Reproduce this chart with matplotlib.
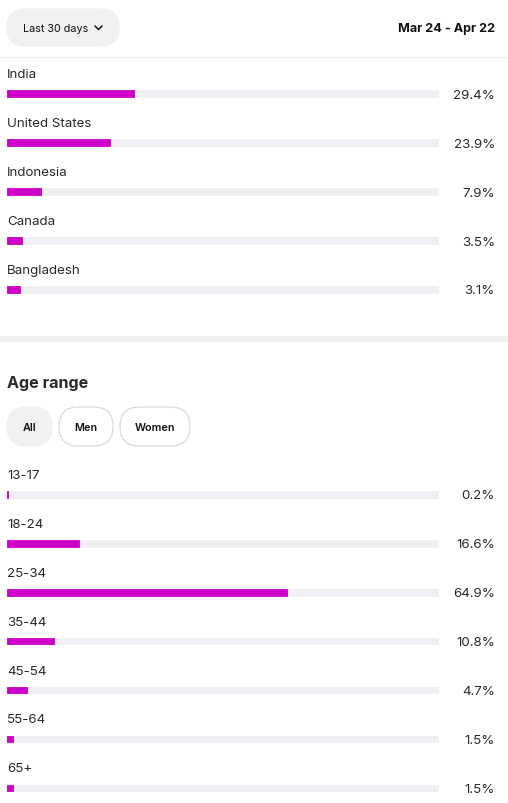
import matplotlib
matplotlib.use('Agg')
import matplotlib.pyplot as plt
from matplotlib.patches import FancyBboxPatch

plt.rcParams['font.family'] = ['Inter', 'DejaVu Sans']

# 数据
countries = ['India', 'United States', 'Indonesia', 'Canada', 'Bangladesh']
country_pct = [29.4, 23.9, 7.9, 3.5, 3.1]

ages = ['13-17', '18-24', '25-34', '35-44', '45-54', '55-64', '65+']
age_pct = [0.2, 16.6, 64.9, 10.8, 4.7, 1.5, 1.5]

period_label = 'Last 30 days'
date_range = 'Mar 24 - Apr 22'
gender_tabs = ['All', 'Men', 'Women']

MAGENTA = '#CC00C6'
TRACK = '#EFEFF4'
TEXT = '#2A2A2A'
W, H = 508, 804

fig = plt.figure(figsize=(W / 100, H / 100), dpi=100)

# 背景层：像素坐标
bg = fig.add_axes([0, 0, 1, 1], zorder=0)
bg.set_xlim(0, W)
bg.set_ylim(H, 0)
bg.axis('off')


def pill(x0, y0, x1, y1, face, edge=None):
    r = (y1 - y0) / 2
    p = FancyBboxPatch((x0, y0), x1 - x0, y1 - y0,
                       boxstyle=f'round,pad=0,rounding_size={r}',
                       facecolor=face, edgecolor=edge if edge else face,
                       linewidth=0.9)
    bg.add_patch(p)


# 顶部
pill(7, 10, 119, 47, '#F1F1F3')
bg.text(23, 29.5, period_label, fontsize=7.8, color='#111111', va='center', ha='left')
bg.plot([95, 98.5, 102], [27, 30.5, 27], color='#111111', lw=1.1, solid_capstyle='round')
bg.text(495, 29, date_range, fontsize=9.1, fontweight='bold', color='#111111',
        va='center', ha='right')
bg.axhline(57.5, color='#EDEDF0', lw=1)

# 分隔条
bg.add_patch(plt.Rectangle((0, 337), W, 6, color='#F0F0F3', lw=0))

# Age range 标题和按钮
bg.text(7, 384, 'Age range', fontsize=11.6, fontweight='bold', color=TEXT,
        va='center', ha='left')
tabs = [(7, 52, '#F1F1F3', None), (59, 113, 'white', '#DADADA'),
        (120, 190, 'white', '#DADADA')]
for (x0, x1, face, edge), name in zip(tabs, gender_tabs):
    pill(x0, 408, x1, 447, face, edge)
    bg.text((x0 + x1) / 2, 428, name, fontsize=7.8, fontweight='semibold',
            color='#111111', va='center', ha='center')


def bar_section(names, values, first_center, step):
    n = len(names)
    top = first_center - step / 2
    bottom = first_center + step * (n - 0.5)
    ax = fig.add_axes([7 / W, 1 - bottom / H, 432 / W, (bottom - top) / H], zorder=1)
    ax.patch.set_alpha(0)
    ax.set_xlim(0, 100)
    ax.set_ylim(n - 0.5, -0.5)
    ax.axis('off')
    h = 6.4 / step
    ys = list(range(n))
    ax.barh(ys, [100] * n, height=h, color=TRACK, linewidth=0.6,
            edgecolor=TRACK, joinstyle='round')
    ax.barh(ys, values, height=h, color=MAGENTA, linewidth=0.6,
            edgecolor=MAGENTA, joinstyle='round')
    tr = ax.get_yaxis_transform()
    for i, (name, v) in enumerate(zip(names, values)):
        ax.text(0, i - 19.5 / step, name, transform=tr, fontsize=9.6,
                color=TEXT, va='center', ha='left', clip_on=False)
        ax.text(488 / 432, i + 1 / step, f'{v}%', transform=tr, fontsize=9.6,
                color=TEXT, va='center', ha='right', clip_on=False)
    return ax


bar_section(countries, country_pct, 94.5, 49)
bar_section(ages, age_pct, 495.5, 48.9)

fig.savefig('out.png', dpi=100, facecolor='white')
